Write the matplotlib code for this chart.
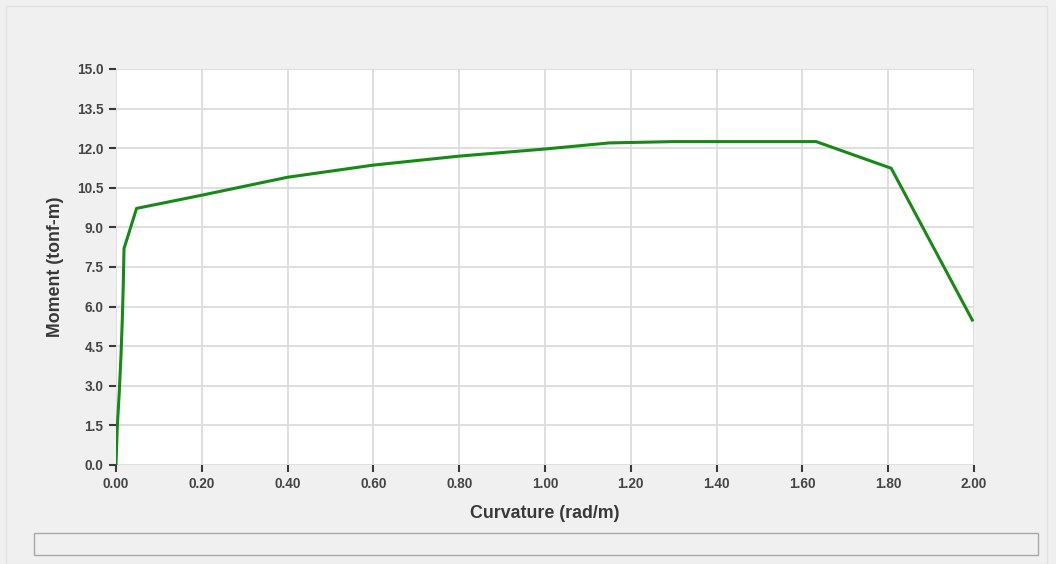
import matplotlib
matplotlib.use("Agg")
import matplotlib.pyplot as plt
from matplotlib.patches import Rectangle

curvature = [0.0, 0.003, 0.0077, 0.0117, 0.0148, 0.017, 0.0187, 0.048,
             0.20, 0.40, 0.60, 0.80, 1.00, 1.15, 1.30, 1.632, 1.807, 1.996]
moment = [0.0, 1.45, 2.78, 4.17, 5.56, 6.88, 8.2, 9.72,
          10.22, 10.9, 11.36, 11.7, 11.97, 12.2, 12.25, 12.25, 11.24, 5.49]

x_ticks = [0.0, 0.2, 0.4, 0.6, 0.8, 1.0, 1.2, 1.4, 1.6, 1.8, 2.0]
y_ticks = [0.0, 1.5, 3.0, 4.5, 6.0, 7.5, 9.0, 10.5, 12.0, 13.5, 15.0]

plt.rcParams['font.family'] = ['Liberation Sans', 'DejaVu Sans']

fig = plt.figure(figsize=(10.56, 5.64), dpi=100)
fig.patch.set_facecolor('#f0f0f0')

# outer panel border and bottom status box
fig.patches.append(Rectangle((6/1056, 0), 1041/1056, 1 - 6/564, transform=fig.transFigure,
                             facecolor='#f0f0f0', edgecolor='#e2e2e2', lw=1, zorder=-2))
fig.patches.append(Rectangle((34/1056, 1 - 555/564), 1004/1056, 22/564, transform=fig.transFigure,
                             facecolor='#f0f0f0', edgecolor='#a8a8a8', lw=1, zorder=-1))

ax = fig.add_axes([116/1056, 1 - 465/564, (974 - 116)/1056, (465 - 69)/564])
ax.set_facecolor('white')
ax.plot(curvature, moment, color='#168a16', lw=2.2, zorder=3)

ax.set_xlim(0, 2.0)
ax.set_ylim(0, 15.0)
ax.set_xticks(x_ticks)
ax.set_yticks(y_ticks)
ax.set_xticklabels([f"{v:.2f}" for v in x_ticks])
ax.set_yticklabels([f"{v:.1f}" for v in y_ticks])
ax.grid(True, color='#dcdcdc', lw=1.3)
ax.set_axisbelow(True)
for s in ax.spines.values():
    s.set_visible(False)
ax.tick_params(axis='both', direction='out', length=5, width=1.5, color='#3a3a3a',
               labelsize=9.8, labelcolor='#454545', pad=4)
for lbl in ax.get_xticklabels() + ax.get_yticklabels():
    lbl.set_fontweight('bold')

ax.set_xlabel('Curvature (rad/m)', fontsize=12.8, color='#383838', fontweight='bold', labelpad=10)
ax.set_ylabel('Moment (tonf-m)', fontsize=12.8, color='#383838', fontweight='bold', labelpad=9)

fig.savefig('out.png', dpi=100, facecolor=fig.get_facecolor())
